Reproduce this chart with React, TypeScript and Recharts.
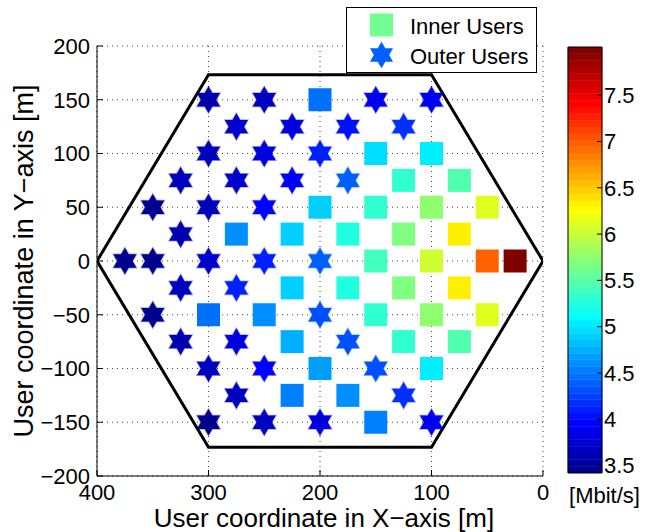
import React from "react";
import {
  ScatterChart,
  Scatter,
  XAxis,
  YAxis,
  CartesianGrid,
  Legend,
  Label,
  BarChart,
  Bar,
} from "recharts";

type User = { x: number; y: number; rate: number };

// users inside the inner zone (squares), rate in Mbit/s
const innerUsers: User[] = [
  { x: 200, y: 150, rate: 4.43 },
  { x: 150, y: 100, rate: 4.93 },
  { x: 100, y: 100, rate: 5.07 },
  { x: 125, y: 75, rate: 5.29 },
  { x: 75, y: 75, rate: 5.5 },
  { x: 200, y: 50, rate: 4.9 },
  { x: 150, y: 50, rate: 5.29 },
  { x: 100, y: 50, rate: 5.72 },
  { x: 50, y: 50, rate: 6.08 },
  { x: 275, y: 25, rate: 4.57 },
  { x: 225, y: 25, rate: 4.86 },
  { x: 175, y: 25, rate: 5.22 },
  { x: 125, y: 25, rate: 5.65 },
  { x: 75, y: 25, rate: 6.3 },
  { x: 150, y: 0, rate: 5.43 },
  { x: 100, y: 0, rate: 6.01 },
  { x: 50, y: 0, rate: 7.01 },
  { x: 25, y: 0, rate: 8.02 },
  { x: 225, y: -25, rate: 4.86 },
  { x: 175, y: -25, rate: 5.22 },
  { x: 125, y: -25, rate: 5.65 },
  { x: 75, y: -25, rate: 6.3 },
  { x: 300, y: -50, rate: 4.43 },
  { x: 250, y: -50, rate: 4.64 },
  { x: 150, y: -50, rate: 5.29 },
  { x: 100, y: -50, rate: 5.72 },
  { x: 50, y: -50, rate: 6.08 },
  { x: 225, y: -75, rate: 4.72 },
  { x: 125, y: -75, rate: 5.29 },
  { x: 75, y: -75, rate: 5.5 },
  { x: 200, y: -100, rate: 4.68 },
  { x: 100, y: -100, rate: 5.07 },
  { x: 225, y: -125, rate: 4.5 },
  { x: 175, y: -125, rate: 4.64 },
  { x: 150, y: -150, rate: 4.5 },
];

// users at the cell edge (stars)
const outerUsers: User[] = [
  { x: 300, y: 150, rate: 3.57 },
  { x: 250, y: 150, rate: 3.64 },
  { x: 150, y: 150, rate: 3.86 },
  { x: 100, y: 150, rate: 3.86 },
  { x: 275, y: 125, rate: 3.71 },
  { x: 225, y: 125, rate: 3.78 },
  { x: 175, y: 125, rate: 4.0 },
  { x: 125, y: 125, rate: 4.21 },
  { x: 300, y: 100, rate: 3.64 },
  { x: 250, y: 100, rate: 3.78 },
  { x: 200, y: 100, rate: 4.1 },
  { x: 325, y: 75, rate: 3.64 },
  { x: 275, y: 75, rate: 3.75 },
  { x: 225, y: 75, rate: 3.97 },
  { x: 175, y: 75, rate: 4.38 },
  { x: 350, y: 50, rate: 3.49 },
  { x: 300, y: 50, rate: 3.64 },
  { x: 250, y: 50, rate: 3.93 },
  { x: 325, y: 25, rate: 3.57 },
  { x: 375, y: 0, rate: 3.42 },
  { x: 350, y: 0, rate: 3.49 },
  { x: 300, y: 0, rate: 3.71 },
  { x: 250, y: 0, rate: 4.07 },
  { x: 200, y: 0, rate: 4.38 },
  { x: 325, y: -25, rate: 3.64 },
  { x: 275, y: -25, rate: 4.07 },
  { x: 350, y: -50, rate: 3.49 },
  { x: 200, y: -50, rate: 4.32 },
  { x: 325, y: -75, rate: 3.57 },
  { x: 275, y: -75, rate: 3.78 },
  { x: 175, y: -75, rate: 4.32 },
  { x: 300, y: -100, rate: 3.64 },
  { x: 250, y: -100, rate: 3.93 },
  { x: 150, y: -100, rate: 4.32 },
  { x: 275, y: -125, rate: 3.64 },
  { x: 125, y: -125, rate: 4.14 },
  { x: 300, y: -150, rate: 3.49 },
  { x: 250, y: -150, rate: 3.64 },
  { x: 200, y: -150, rate: 3.78 },
  { x: 100, y: -150, rate: 3.86 },
];

const hexagon = [
  { x: 400, y: 0 },
  { x: 300, y: 173.2 },
  { x: 100, y: 173.2 },
  { x: 0, y: 0 },
  { x: 100, y: -173.2 },
  { x: 300, y: -173.2 },
  { x: 400, y: 0 },
];

const xTicks = [0, 100, 200, 300, 400];
const yTicks = [-200, -150, -100, -50, 0, 50, 100, 150, 200];
const xMinorTicks = Array.from({ length: 41 }, (_, i) => i * 10);
const yMinorTicks = Array.from({ length: 41 }, (_, i) => -200 + i * 10);
const rateTicks = [3.5, 4, 4.5, 5, 5.5, 6, 6.5, 7, 7.5];
const rateMin = 3.42;
const rateMax = 8.02;

const FONT = "'Liberation Sans', Arial, Helvetica, sans-serif";

// MATLAB jet(64)
function jetRow(i: number): string {
  const u = (k: number) =>
    k < 1 || k > 47 ? 0 : k <= 16 ? k / 16 : k <= 31 ? 1 : (48 - k) / 16;
  const c = [u(i - 24), u(i - 8), u(i + 8)];
  return "#" + c.map((v) => Math.round(v * 255).toString(16).padStart(2, "0")).join("");
}

function rateColor(rate: number): string {
  let idx = Math.floor(((rate - rateMin) / (rateMax - rateMin)) * 64) + 1;
  idx = Math.max(1, Math.min(64, idx));
  return jetRow(idx);
}

// colour bar: one stacked column, a hidden base up to rateMin then 64 jet bands
const bandKeys = Array.from({ length: 64 }, (_, i) => `b${i}`);
const colorbarRow: Record<string, number | string> = { name: "rate", base: rateMin };
bandKeys.forEach((k) => {
  colorbarRow[k] = (rateMax - rateMin) / 64;
});
const colorbarData = [colorbarRow];

function starPoints(cx: number, cy: number, r: number): string {
  const pts: string[] = [];
  for (let k = 0; k < 12; k++) {
    const a = ((-90 + k * 30) * Math.PI) / 180;
    const rr = k % 2 === 0 ? r : r / Math.sqrt(3);
    pts.push(`${cx + rr * Math.cos(a)},${cy + rr * Math.sin(a)}`);
  }
  return pts.join(" ");
}

const SquareShape = (props: any) => {
  const { cx, cy, payload } = props;
  if (cx == null || cy == null) return <g />;
  return (
    <rect x={cx - 11.5} y={cy - 11.5} width={23} height={23} fill={rateColor(payload.rate)} />
  );
};

const StarShape = (props: any) => {
  const { cx, cy, payload } = props;
  if (cx == null || cy == null) return <g />;
  const c = rateColor(payload.rate);
  return (
    <polygon
      points={starPoints(cx, cy, 13.3)}
      fill={c}
      stroke={c}
      strokeOpacity={0.35}
      strokeWidth={1.5}
    />
  );
};

const NoShape = () => <g />;

const minus = (v: number) => (v < 0 ? `\u2212${Math.abs(v)}` : `${v}`);

const XTitle = (props: any) => {
  const vb = props.viewBox ?? { x: 97, y: 476, width: 446, height: 1 };
  return (
    <text
      x={vb.x + vb.width / 2 + 4}
      y={vb.y + 51}
      textAnchor="middle"
      fontSize={26}
      fontFamily={FONT}
      fill="#000"
    >
      User coordinate in X−axis [m]
    </text>
  );
};

const YTitle = (props: any) => {
  const vb = props.viewBox ?? { x: 96, y: 46, width: 1, height: 430 };
  const x = vb.x + vb.width - 64;
  const y = vb.y + vb.height / 2;
  return (
    <text
      x={x}
      y={y}
      transform={`rotate(-90, ${x}, ${y})`}
      textAnchor="middle"
      fontSize={27}
      fontFamily={FONT}
      fill="#000"
    >
      User coordinate in Y−axis [m]
    </text>
  );
};

const UnitTitle = (props: any) => {
  const vb = props.viewBox ?? { x: 8, y: 473, width: 34, height: 1 };
  return (
    <text
      x={vb.x + vb.width / 2 + 19.5}
      y={vb.y + 30}
      textAnchor="middle"
      fontSize={22}
      fontFamily={FONT}
      fill="#000"
    >
      [Mbit/s]
    </text>
  );
};

const LegendBox = (props: any) => {
  const items = (props.payload ?? []).filter((p: any) => p.type !== "none");
  return (
    <svg width={191} height={66} style={{ display: "block" }}>
      <rect x={0.5} y={0.5} width={190} height={65} fill="#fff" stroke="#000" />
      {items.map((item: any, i: number) => {
        const cy = 18 + i * 30;
        return (
          <g key={item.value}>
            {i === 0 ? (
              <rect x={24} y={cy - 11.5} width={23} height={23} fill={item.color} />
            ) : (
              <polygon points={starPoints(35.5, cy, 13.3)} fill={item.color} />
            )}
            <text x={64} y={cy + 9} fontSize={22} fontFamily={FONT} fill="#000">
              {item.value}
            </text>
          </g>
        );
      })}
    </svg>
  );
};

const tickStyle = { fill: "#000", fontSize: 22, fontFamily: FONT };

export default function App() {
  return (
    <div
      style={{
        position: "absolute",
        left: 0,
        top: 0,
        width: 645,
        height: 532,
        background: "#fff",
        fontFamily: FONT,
      }}
    >
      <ScatterChart
        width={645}
        height={532}
        margin={{ top: 46, right: 102, bottom: 54, left: 95 }}
      >
        <CartesianGrid stroke="#444" strokeDasharray="1 4" />
        <XAxis
          type="number"
          dataKey="x"
          domain={[0, 400]}
          reversed
          ticks={xTicks}
          interval={0}
          height={1}
          tickSize={-6}
          tickMargin={14}
          tick={tickStyle}
          axisLine={{ stroke: "#000" }}
          tickLine={{ stroke: "#000" }}
          allowDataOverflow
        >
          <Label content={XTitle} />
        </XAxis>
        <YAxis
          type="number"
          dataKey="y"
          domain={[-200, 200]}
          ticks={yTicks}
          interval={0}
          width={1}
          tickSize={-6}
          tickMargin={13}
          tick={tickStyle}
          tickFormatter={minus}
          axisLine={{ stroke: "#000" }}
          tickLine={{ stroke: "#000" }}
          allowDataOverflow
        >
          <Label content={YTitle} />
        </YAxis>
        <XAxis
          xAxisId="minor"
          type="number"
          domain={[0, 400]}
          reversed
          ticks={xMinorTicks}
          interval={0}
          height={1}
          tickSize={-3}
          tick={false}
          axisLine={false}
          tickLine={{ stroke: "#000" }}
        />
        <YAxis
          yAxisId="minor"
          type="number"
          domain={[-200, 200]}
          ticks={yMinorTicks}
          interval={0}
          width={1}
          tickSize={-3}
          tick={false}
          axisLine={false}
          tickLine={{ stroke: "#000" }}
        />
        <Legend
          layout="vertical"
          align="center"
          verticalAlign="middle"
          wrapperStyle={{ left: 346, top: 7, width: 191, height: 66 }}
          content={LegendBox}
        />
        <Scatter
          name="hexagon"
          data={hexagon}
          line={{ stroke: "#000", strokeWidth: 3 }}
          shape={NoShape}
          legendType="none"
          isAnimationActive={false}
        />
        <Scatter
          name="Inner Users"
          data={innerUsers}
          fill="#70ff90"
          shape={SquareShape}
          isAnimationActive={false}
        />
        <Scatter
          name="Outer Users"
          data={outerUsers}
          fill="#0060ff"
          shape={StarShape}
          isAnimationActive={false}
        />
      </ScatterChart>

      <div style={{ position: "absolute", left: 560, top: 0 }}>
        <BarChart
          width={85}
          height={532}
          data={colorbarData}
          margin={{ top: 46, right: 42, bottom: 58, left: 7 }}
          barCategoryGap={0}
          barGap={0}
        >
          <XAxis
            dataKey="name"
            height={1}
            tick={false}
            tickLine={false}
            axisLine={{ stroke: "#000" }}
          >
            <Label content={UnitTitle} />
          </XAxis>
          <XAxis
            xAxisId="top"
            orientation="top"
            dataKey="name"
            height={1}
            tick={false}
            tickLine={false}
            axisLine={{ stroke: "#000" }}
          />
          <YAxis
            yAxisId="r"
            orientation="right"
            type="number"
            domain={[rateMin, rateMax]}
            ticks={rateTicks}
            interval={0}
            width={1}
            tickSize={-5}
            tickMargin={7}
            tick={tickStyle}
            axisLine={{ stroke: "#000" }}
            tickLine={{ stroke: "#000" }}
            allowDataOverflow
          />
          <YAxis
            yAxisId="l"
            orientation="left"
            type="number"
            domain={[rateMin, rateMax]}
            ticks={rateTicks}
            interval={0}
            width={1}
            tickSize={-5}
            tick={false}
            axisLine={{ stroke: "#000" }}
            tickLine={{ stroke: "#000" }}
            allowDataOverflow
          />
          <Bar
            yAxisId="r"
            dataKey="base"
            stackId="cb"
            fill="transparent"
            isAnimationActive={false}
          />
          {bandKeys.map((k, i) => (
            <Bar
              key={k}
              yAxisId="r"
              dataKey={k}
              stackId="cb"
              fill={jetRow(i + 1)}
              stroke={jetRow(i + 1)}
              strokeWidth={0.5}
              isAnimationActive={false}
            />
          ))}
        </BarChart>
      </div>
    </div>
  );
}
